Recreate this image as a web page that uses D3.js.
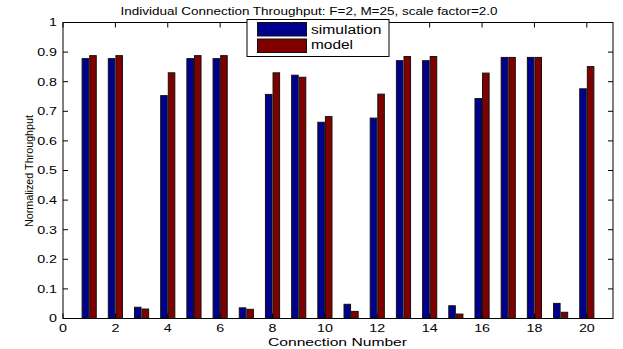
<!DOCTYPE html>
<html>
<head>
  <meta charset="utf-8">
  <script src="https://d3js.org/d3.v7.min.js"></script>
  <style type="text/css">
    body { margin: 0; background: #fff; }
    text { font-family: "Liberation Sans", Arial, sans-serif; fill: #000; }
  </style>
</head>
<body>
<script type="text/javascript">
  // connection numbers 1..20
  var connections = d3.range(1, 21);
  var simulation = [0.878, 0.878, 0.038, 0.753, 0.878, 0.878, 0.036, 0.757, 0.822, 0.663,
                    0.048, 0.677, 0.871, 0.871, 0.043, 0.743, 0.882, 0.882, 0.051, 0.776];
  var model = [0.888, 0.888, 0.032, 0.830, 0.888, 0.888, 0.031, 0.830, 0.815, 0.682,
               0.024, 0.758, 0.885, 0.885, 0.015, 0.829, 0.882, 0.882, 0.021, 0.851];
  var seriesNames = ["simulation", "model"];
  var seriesColors = ["#00008f", "#800000"];
  var xTicks = [0, 2, 4, 6, 8, 10, 12, 14, 16, 18, 20];
  var yTicks = [0, 0.1, 0.2, 0.3, 0.4, 0.5, 0.6, 0.7, 0.8, 0.9, 1];

  var W = 623, H = 349;
  var mLeft = 63, mRight = 613, mTop = 22.5, mBottom = 318.5;
  var stretch = 1.36;   // the reference text is wide

  var svg = d3.select("body").append("svg")
      .attr("width", W).attr("height", H);

  var x = d3.scaleLinear().domain([0, 21]).range([mLeft, mRight]);
  var y = d3.scaleLinear().domain([0, 1]).range([mBottom, mTop]);

  var barW = 0.25, gap = 0.02;

  // bars
  [simulation, model].forEach(function (vals, si) {
    svg.append("g").selectAll("rect")
      .data(vals)
      .enter().append("rect")
        .attr("x", function (d, i) {
          var c = connections[i];
          return si === 0 ? x(c - gap - barW) : x(c + gap);
        })
        .attr("y", function (d) { return y(d); })
        .attr("width", x(barW) - x(0))
        .attr("height", function (d) { return y(0) - y(d); })
        .attr("fill", seriesColors[si])
        .attr("stroke", "#111")
        .attr("stroke-width", 1);
  });

  // axes box
  svg.append("rect")
    .attr("x", mLeft).attr("y", mTop)
    .attr("width", mRight - mLeft).attr("height", mBottom - mTop)
    .attr("fill", "none").attr("stroke", "#000").attr("stroke-width", 1);

  var tl = 5;
  var g = svg.append("g").attr("stroke", "#000").attr("stroke-width", 1);
  xTicks.forEach(function (t) {
    g.append("line").attr("x1", x(t)).attr("x2", x(t)).attr("y1", mBottom).attr("y2", mBottom - tl);
    g.append("line").attr("x1", x(t)).attr("x2", x(t)).attr("y1", mTop).attr("y2", mTop + tl);
  });
  yTicks.forEach(function (t) {
    g.append("line").attr("x1", mLeft).attr("x2", mLeft + tl).attr("y1", y(t)).attr("y2", y(t));
    g.append("line").attr("x1", mRight).attr("x2", mRight - tl).attr("y1", y(t)).attr("y2", y(t));
  });

  svg.append("g").selectAll("text")
    .data(xTicks).enter().append("text")
      .attr("transform", function (d) {
        return "translate(" + x(d) + "," + 332 + ") scale(" + stretch + ",1)";
      })
      .attr("text-anchor", "middle")
      .style("font-size", "10.5px")
      .text(function (d) { return d; });

  svg.append("g").selectAll("text")
    .data(yTicks).enter().append("text")
      .attr("transform", function (d) {
        return "translate(" + (mLeft - 6) + "," + (y(d) + 3.8) + ") scale(" + stretch + ",1)";
      })
      .attr("text-anchor", "end")
      .style("font-size", "10.5px")
      .text(function (d) { return d3.format("")(d); });

  // title & labels
  svg.append("text")
    .attr("x", 120.5).attr("y", 14.5)
    .attr("textLength", 377).attr("lengthAdjust", "spacingAndGlyphs")
    .style("font-size", "10.8px")
    .text("Individual Connection Throughput: F=2, M=25, scale factor=2.0");

  svg.append("text")
    .attr("x", 268).attr("y", 345.5)
    .attr("textLength", 139).attr("lengthAdjust", "spacingAndGlyphs")
    .style("font-size", "11.5px")
    .text("Connection Number");

  svg.append("text")
    .attr("transform", "translate(32.5," + 227 + ") rotate(-90)")
    .attr("textLength", 112).attr("lengthAdjust", "spacingAndGlyphs")
    .style("font-size", "11.5px")
    .text("Normalized Throughput");

  // legend
  var lg = svg.append("g");
  lg.append("rect")
    .attr("x", 247).attr("y", 19.5).attr("width", 142).attr("height", 37)
    .attr("fill", "#fff").attr("stroke", "#000");
  var legendLen = [70.5, 42];
  seriesNames.forEach(function (n, i) {
    lg.append("rect")
      .attr("x", 257.5).attr("y", 22.5 + i * 16.5)
      .attr("width", 49).attr("height", 13.5)
      .attr("fill", seriesColors[i]).attr("stroke", "#111");
    lg.append("text")
      .attr("x", 311).attr("y", 33.5 + i * 15.5)
      .attr("textLength", legendLen[i]).attr("lengthAdjust", "spacingAndGlyphs")
      .style("font-size", "12px")
      .text(n);
  });
</script>
</body>
</html>
